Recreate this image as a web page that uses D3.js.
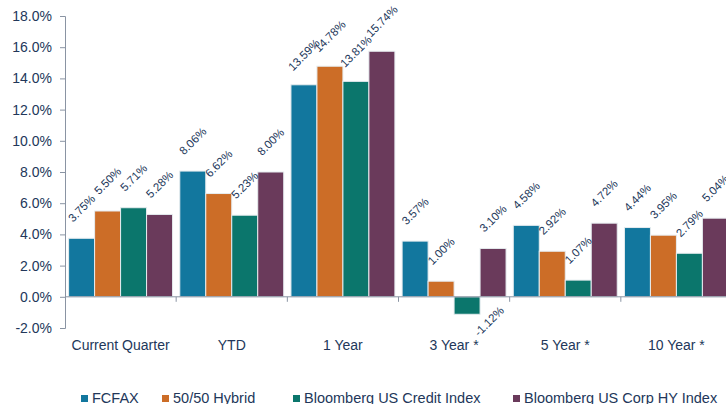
<!DOCTYPE html>
<html>
<head>
<meta charset="utf-8">
<script src="https://cdn.jsdelivr.net/npm/d3@7"></script>
<style>
  body { margin: 0; background: #fff; }
  svg { display: block; }
</style>
</head>
<body>
<svg id="chart"></svg>
<script>
// periods on the x axis
const periods = ["Current Quarter", "YTD", "1 Year", "3 Year *", "5 Year *", "10 Year *"];
const seriesNames = ["FCFAX", "50/50 Hybrid", "Bloomberg US Credit Index", "Bloomberg US Corp HY Index"];
const fcfax   = [3.75, 8.06, 13.59, 3.57, 4.58, 4.44];
const hybrid  = [5.50, 6.62, 14.78, 1.00, 2.92, 3.95];
const credit  = [5.71, 5.23, 13.81, -1.12, 1.07, 2.79];
const corpHY  = [5.28, 8.00, 15.74, 3.10, 4.72, 5.04];
const yTicks = [-2, 0, 2, 4, 6, 8, 10, 12, 14, 16, 18];

const colors = ["#12779e", "#cc6d27", "#0b766c", "#6a3a5b"];
const textColor = "#22375a";
const axisColor = "#8a94a3";

const width = 726, height = 404;
const margin = {top: 16, right: -6, bottom: 76, left: 65};

const svg = d3.select("#chart").attr("width", width).attr("height", height);

const x = d3.scaleBand()
    .domain(periods)
    .range([margin.left, width - margin.right])
    .paddingInner(0.065)
    .paddingOuter(0.0325);

const xInner = d3.scaleBand()
    .domain(seriesNames)
    .range([0, x.bandwidth()]);

const y = d3.scaleLinear()
    .domain([-2, 18])
    .range([height - margin.bottom, margin.top]);

const allSeries = [fcfax, hybrid, credit, corpHY];
const rows = [];
periods.forEach((p, i) => {
    seriesNames.forEach((s, j) => {
        rows.push({period: p, series: s, idx: j, value: allSeries[j][i]});
    });
});

// y axis
const yAxis = svg.append("g")
    .attr("transform", `translate(${margin.left},0)`)
    .call(d3.axisLeft(y).tickValues(yTicks).tickSize(5).tickPadding(8)
        .tickFormat(d => d.toFixed(1) + "%"));
yAxis.select(".domain").attr("stroke", axisColor);
yAxis.selectAll(".tick line").attr("stroke", axisColor);
yAxis.selectAll("text")
    .attr("fill", textColor)
    .style("font-family", "Liberation Sans, Arial, sans-serif")
    .style("font-size", "14px");

// bars
svg.append("g").selectAll("rect")
    .data(rows)
    .join("rect")
    .attr("x", d => x(d.period) + xInner(d.series))
    .attr("y", d => y(Math.max(0, d.value)))
    .attr("width", xInner.bandwidth())
    .attr("height", d => Math.abs(y(d.value) - y(0)))
    .attr("fill", d => colors[d.idx])
    .attr("stroke", "#e6ecef")
    .attr("stroke-width", 1);

// zero line and category ticks
svg.append("line")
    .attr("x1", margin.left).attr("x2", width)
    .attr("y1", y(0)).attr("y2", y(0))
    .attr("stroke", axisColor);

const step = x.step();
svg.append("g").selectAll("line")
    .data(d3.range(1, periods.length + 1))
    .join("line")
    .attr("x1", i => margin.left + i * step)
    .attr("x2", i => margin.left + i * step)
    .attr("y1", y(0)).attr("y2", y(0) + 5)
    .attr("stroke", axisColor);

// category labels
svg.append("g").selectAll("text")
    .data(periods)
    .join("text")
    .attr("x", d => x(d) + x.bandwidth() / 2)
    .attr("y", 350)
    .attr("text-anchor", "middle")
    .attr("fill", textColor)
    .style("font-family", "Liberation Sans, Arial, sans-serif")
    .style("font-size", "14px")
    .text(d => d);

// value labels, rotated
svg.append("g").selectAll("text")
    .data(rows)
    .join("text")
    .attr("transform", d => {
        const cx = x(d.period) + xInner(d.series) + xInner.bandwidth() / 2;
        if (d.value < 0) {
            return `translate(${cx + 22},${y(d.value) + 7}) rotate(-45)`;
        }
        return `translate(${cx},${y(d.value) - 30}) rotate(-45)`;
    })
    .attr("text-anchor", "middle")
    .attr("dominant-baseline", "central")
    .attr("fill", textColor)
    .style("font-family", "Liberation Sans, Arial, sans-serif")
    .style("font-size", "11.5px")
    .text(d => d.value.toFixed(2) + "%");

// legend
const legendX = [81, 162, 293, 513];
const legend = svg.append("g").selectAll("g")
    .data(seriesNames)
    .join("g")
    .attr("transform", (d, i) => `translate(${legendX[i]},0)`);
legend.append("rect")
    .attr("x", 0).attr("y", 395)
    .attr("width", 7).attr("height", 7)
    .attr("fill", (d, i) => colors[i]);
legend.append("text")
    .attr("x", 11).attr("y", 403)
    .attr("fill", textColor)
    .style("font-family", "Liberation Sans, Arial, sans-serif")
    .style("font-size", "14.5px")
    .text(d => d);
</script>
</body>
</html>
